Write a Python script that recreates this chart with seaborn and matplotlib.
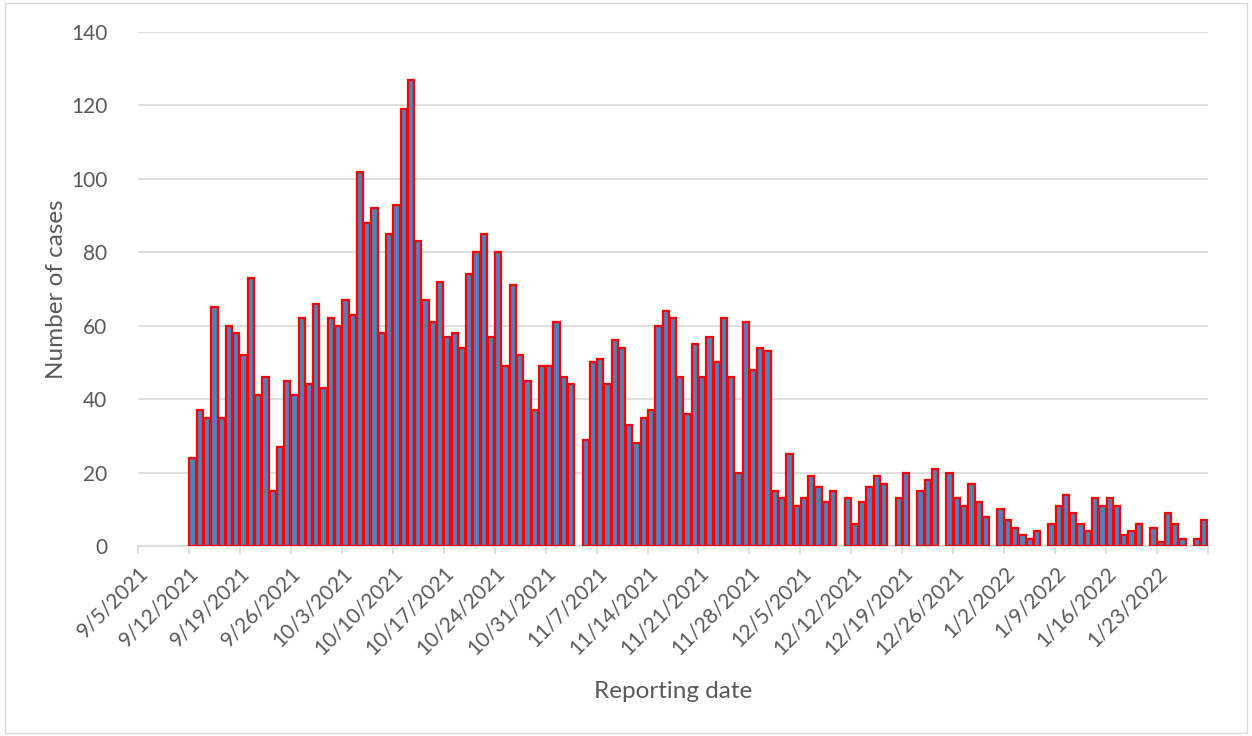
import matplotlib
matplotlib.use("Agg")
import matplotlib.pyplot as plt
import matplotlib.patches as mpatches
import seaborn as sns
import pandas as pd

# daily case counts, 9/12/2021 .. 1/29/2022 (0 = no bar drawn)
first_day = "2021-09-12"
cases = [
    24, 37, 35, 65, 35, 60, 58,
    52, 73, 41, 46, 15, 27, 45,
    41, 62, 44, 66, 43, 62, 60,
    67, 63, 102, 88, 92, 58, 85,
    93, 119, 127, 83, 67, 61, 72,
    57, 58, 54, 74, 80, 85, 57,
    80, 49, 71, 52, 45, 37, 49,
    49, 61, 46, 44, 0, 29, 50,
    51, 44, 56, 54, 33, 28, 35,
    37, 60, 64, 62, 46, 36, 55,
    46, 57, 50, 62, 46, 20, 61,
    48, 54, 53, 15, 13, 25, 11,
    13, 19, 16, 12, 15, 0, 13,
    6, 12, 16, 19, 17, 0, 13,
    20, 0, 15, 18, 21, 0, 20,
    13, 11, 17, 12, 8, 0, 10,
    7, 5, 3, 2, 4, 0, 6,
    11, 14, 9, 6, 4, 13, 11,
    13, 11, 3, 4, 6, 0, 5,
    1, 9, 6, 2, 0, 2, 7,
]

# weekly axis ticks
axis_start = "2021-09-05"
tick_labels = [
    "9/5/2021", "9/12/2021", "9/19/2021", "9/26/2021", "10/3/2021",
    "10/10/2021", "10/17/2021", "10/24/2021", "10/31/2021", "11/7/2021",
    "11/14/2021", "11/21/2021", "11/28/2021", "12/5/2021", "12/12/2021",
    "12/19/2021", "12/26/2021", "1/2/2022", "1/9/2022", "1/16/2022",
    "1/23/2022", "",
]

dates = pd.date_range(first_day, periods=len(cases), freq="D")
df = pd.DataFrame({"date": dates, "cases": cases})
# day number on the axis; a bar sits in the slot right of its date tick
df["day"] = (df["date"] - pd.Timestamp(axis_start)).dt.days + 0.5
df = df[df["cases"] > 0]

sns.set_style("white")
plt.rcParams["font.family"] = ["Lato", "DejaVu Sans"]

fig = plt.figure(figsize=(12.52, 7.36), dpi=100)
ax = fig.add_axes([138 / 1252, 1 - 546 / 736, 1070 / 1252, 514 / 736])

sns.barplot(data=df, x="day", y="cases", native_scale=True, width=0.86,
            color="#4F81BD", saturation=1, edgecolor="#FF0000",
            linewidth=1.6, errorbar=None, ax=ax, zorder=3)

grey = "#D9D9D9"
txt = "#595959"
ax.set_ylim(0, 140)
ax.set_yticks(range(0, 141, 20))
ax.set_xlim(0, 7 * (len(tick_labels) - 1))
ax.set_xticks(range(0, 7 * len(tick_labels), 7))
ax.set_xticklabels(tick_labels, rotation=45, ha="right", va="top",
                   rotation_mode="anchor")
ax.grid(axis="y", color=grey, linewidth=1.2, zorder=0)
ax.set_axisbelow(True)
for s in ["top", "right", "left"]:
    ax.spines[s].set_visible(False)
ax.spines["bottom"].set_color(grey)
ax.spines["bottom"].set_linewidth(1.2)
ax.tick_params(axis="y", length=0, pad=22, labelsize=15, labelcolor=txt)
ax.tick_params(axis="x", length=6, width=1.2, color=grey, pad=6,
               labelsize=15, labelcolor=txt, bottom=True)

ax.set_ylabel("Number of cases", fontsize=17.5, color=txt)
ax.set_xlabel("Reporting date", fontsize=17.5, color=txt)
ax.yaxis.set_label_coords(-0.066, 0.5)
ax.xaxis.set_label_coords(0.5, -0.262)

fig.patches.append(mpatches.Rectangle((0.004, 0.004), 0.992, 0.992,
                                      transform=fig.transFigure, fill=False,
                                      edgecolor=grey, linewidth=1))

plt.savefig("out.png", dpi=100)
plt.close()
